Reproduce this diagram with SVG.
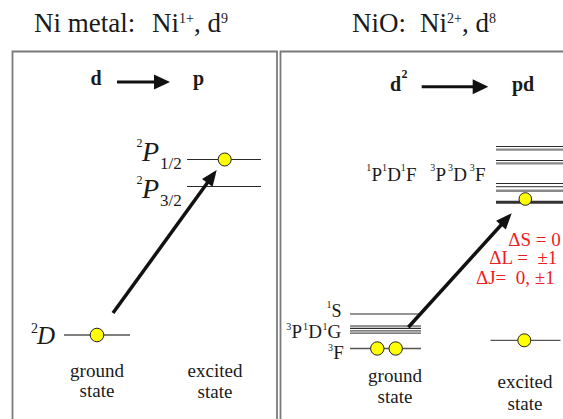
<svg xmlns="http://www.w3.org/2000/svg" width="563" height="419" viewBox="0 0 563 419">
<defs>
<style>
text{font-family:"Liberation Serif","Times New Roman",serif;fill:#1a1a1a}
.title{font-size:27px}
.sup{font-size:14px}
.hdr{font-size:20px;font-weight:bold}
.lab{font-size:19px}
.sm{font-size:10px}
.it{font-style:italic}
.box{fill:none;stroke:#7a7a7a;stroke-width:1.8}
.lvl{stroke:#2a2a2a;stroke-width:1.1}
.lvlm{stroke:#555;stroke-width:1.3}
.lvlg{stroke:#8a8a8a;stroke-width:2.4}
.lvlk{stroke:#333;stroke-width:3}
.e{fill:#ffff00;stroke:#222;stroke-width:1}
.arr{stroke:#111;stroke-width:3.5;fill:none}
.harr{stroke:#111;stroke-width:3;fill:none}
.head{fill:#111}
.red{fill:#ee1c24;font-size:19px;white-space:pre}
</style>
</defs>

<g id="panel-left-frame"><path class="box" d="M12.5,419 V51.5 H277 V419"/></g>
<g id="panel-right-frame"><path class="box" d="M280.5,419 V51.5 H563"/></g>

<g id="title-left">
<text class="title" y="32"><tspan x="34">Ni metal:</tspan><tspan x="152">Ni</tspan><tspan class="sup" dy="-9">1+</tspan><tspan dy="9">, d</tspan><tspan class="sup" dy="-9">9</tspan></text>
</g>
<g id="title-right">
<text class="title" y="32"><tspan x="352">NiO:</tspan><tspan x="420">Ni</tspan><tspan class="sup" dy="-9">2+</tspan><tspan dy="9">, d</tspan><tspan class="sup" dy="-9">8</tspan></text>
</g>

<g id="header-left">
<text class="hdr" x="96" y="85" text-anchor="middle">d</text>
<text class="hdr" x="198.5" y="85" text-anchor="middle">p</text>
</g>
<g id="header-right">
<text class="hdr" x="390" y="90.5">d</text>
<text x="401.5" y="78" style="font-size:12px;font-weight:bold">2</text>
<text class="hdr" x="512" y="91">pd</text>
</g>

<g id="level-2P12">
<line class="lvl" x1="187" y1="159.5" x2="261" y2="159.5"/>
<circle class="e" cx="224.7" cy="159.5" r="6.5"/>
<text x="136.5" y="147" style="font-size:12px">2</text>
<text class="it" x="142" y="161" style="font-size:28px">P</text>
<text x="160" y="169" style="font-size:17px">1/2</text>
</g>
<g id="level-2P32">
<line class="lvl" x1="187" y1="186.5" x2="261" y2="186.5"/>
<text x="136.5" y="184" style="font-size:12px">2</text>
<text class="it" x="142" y="197.5" style="font-size:28px">P</text>
<text x="160" y="205.5" style="font-size:17px">3/2</text>
</g>
<g id="level-2D">
<line class="lvlm" x1="64" y1="335" x2="130" y2="335"/>
<circle class="e" cx="97" cy="335" r="6.8"/>
<text x="31" y="333" style="font-size:14px">2</text>
<text class="it" x="37" y="344" style="font-size:25px">D</text>
</g>
<g id="label-ground-left">
<text class="lab" x="97" y="377" text-anchor="middle">ground</text>
<text class="lab" x="97" y="397" text-anchor="middle">state</text>
</g>
<g id="label-excited-left">
<text class="lab" x="215" y="377" text-anchor="middle">excited</text>
<text class="lab" x="215" y="398" text-anchor="middle">state</text>
</g>

<g id="levels-pd">
<line class="lvl" x1="496" y1="146.5" x2="563" y2="146.5"/>
<line class="lvlg" x1="496" y1="149.6" x2="563" y2="149.6"/>
<line class="lvl" x1="496" y1="160.5" x2="563" y2="160.5"/>
<line class="lvlg" x1="496" y1="163.4" x2="563" y2="163.4"/>
<line class="lvl" x1="496" y1="183.5" x2="563" y2="183.5"/>
<line class="lvlm" x1="496" y1="186.6" x2="563" y2="186.6"/>
<line class="lvlg" x1="496" y1="190.8" x2="563" y2="190.8"/>
<line class="lvlk" x1="496" y1="202.3" x2="563" y2="202.3"/>
<circle class="e" cx="525.3" cy="199" r="6.3"/>
<text style="font-size:19px" y="180.7"><tspan class="sm" x="366.3" dy="-9.5">1</tspan><tspan x="371.5" dy="9.5">P</tspan><tspan class="sm" x="382.1" dy="-9.5">1</tspan><tspan x="387.3" dy="9.5">D</tspan><tspan class="sm" x="400.8" dy="-9.5">1</tspan><tspan x="406" dy="9.5">F</tspan><tspan class="sm" x="430.3" dy="-9.5">3</tspan><tspan x="435.5" dy="9.5">P</tspan><tspan class="sm" x="448.1" dy="-9.5">3</tspan><tspan x="453.3" dy="9.5">D</tspan><tspan class="sm" x="469.8" dy="-9.5">3</tspan><tspan x="475" dy="9.5">F</tspan></text>
</g>

<g id="selection-rules">
<text class="red" x="508.3" y="246">ΔS = 0</text>
<text class="red" x="489.3" y="264.3">ΔL =&#160; ±1</text>
<text class="red" x="476" y="284.3">ΔJ=&#160; 0, ±1</text>
</g>

<g id="level-1S">
<line class="lvl" x1="350" y1="314" x2="421" y2="314"/>
<text class="sm" x="326.5" y="308">1</text>
<text style="font-size:18px" x="331.5" y="316.5">S</text>
</g>
<g id="level-3P1D1G">
<line class="lvl" x1="350" y1="326" x2="421" y2="326"/>
<line class="lvl" x1="350" y1="328.4" x2="421" y2="328.4"/>
<line class="lvlm" x1="350" y1="330.8" x2="421" y2="330.8"/>
<line class="lvlm" x1="350" y1="333.1" x2="421" y2="333.1"/>
<text style="font-size:19px" y="338.3"><tspan class="sm" x="286.3" dy="-8.5">3</tspan><tspan x="291.5" dy="8.5">P</tspan><tspan class="sm" x="303" dy="-8.5">1</tspan><tspan x="308.2" dy="8.5">D</tspan><tspan class="sm" x="322.4" dy="-8.5">1</tspan><tspan x="327.6" dy="8.5">G</tspan></text>
</g>
<g id="level-3F">
<line class="lvlm" x1="350" y1="348.5" x2="421" y2="348.5"/>
<circle class="e" cx="377.3" cy="348.5" r="6.7"/>
<circle class="e" cx="395.7" cy="348.5" r="6.7"/>
<text class="sm" x="328" y="351">3</text>
<text style="font-size:19px" x="333.2" y="359.3">F</text>
</g>
<g id="level-excited-right">
<line class="lvlm" x1="490.5" y1="340.3" x2="560.5" y2="340.3"/>
<circle class="e" cx="524.3" cy="340.3" r="6.5"/>
</g>
<g id="label-ground-right">
<text class="lab" x="395" y="381.7" text-anchor="middle">ground</text>
<text class="lab" x="395" y="403.3" text-anchor="middle">state</text>
</g>
<g id="label-excited-right">
<text class="lab" x="525" y="387.7" text-anchor="middle">excited</text>
<text class="lab" x="525" y="410" text-anchor="middle">state</text>
</g>

<g id="connectors">
<line class="harr" x1="117" y1="82" x2="156" y2="82"/>
<polygon class="head" points="154,74.5 170,82 154,89.5"/>
<line class="harr" x1="421.7" y1="86.7" x2="475" y2="86.7"/>
<polygon class="head" points="472.7,79.3 488.3,86.7 472.7,94.3"/>
<line class="arr" x1="113" y1="313" x2="208.5" y2="181.3"/>
<polygon class="head" points="216.7,170 212.6,186.8 202,179.1"/>
<line class="arr" x1="408.3" y1="327.3" x2="502" y2="224"/>
<polygon class="head" points="511.7,213.3 505.8,229.5 496.1,220.8"/>
</g>
</svg>
